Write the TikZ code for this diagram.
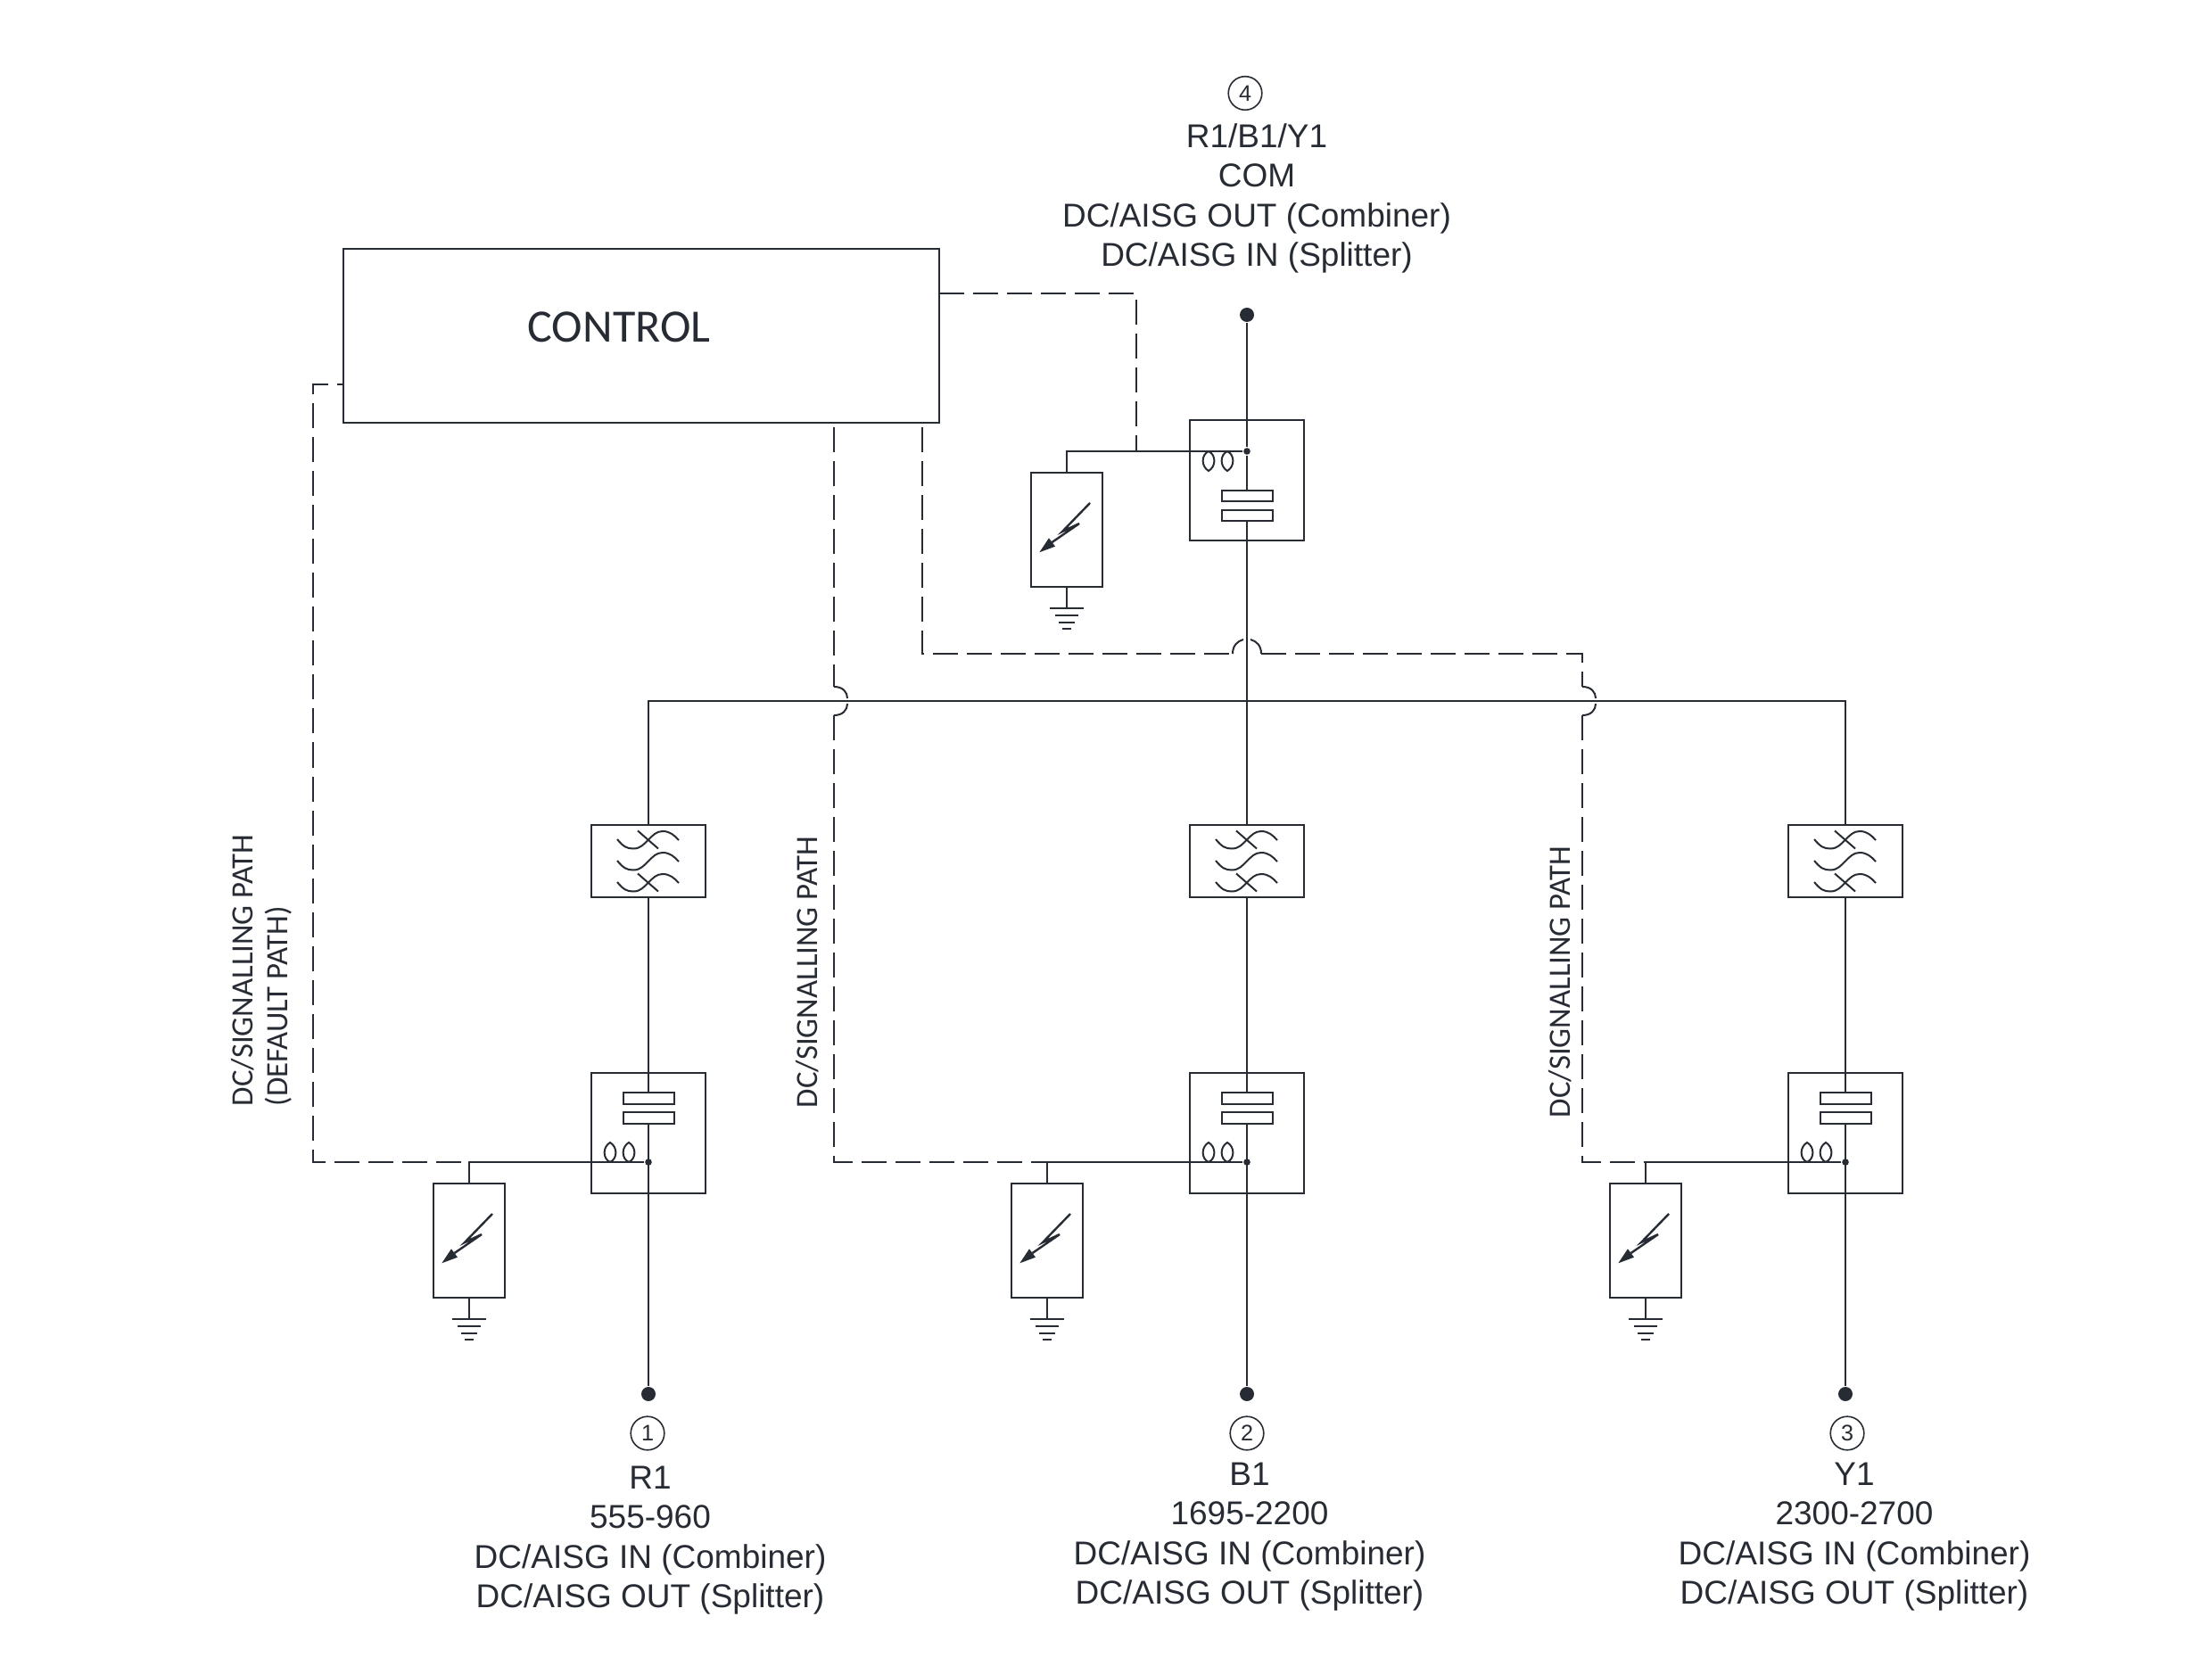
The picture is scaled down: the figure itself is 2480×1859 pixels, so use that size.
\documentclass[tikz,border=0pt]{standalone}
\usepackage{fontspec}
\setmainfont{Liberation Sans}
\newfontfamily\labelfont{Carlito}
\definecolor{ink}{HTML}{272B33}
\tikzset{
  wire/.style={draw=ink,line width=.5pt},
  dashwire/.style={draw=ink,line width=.5pt,dash pattern=on 7pt off 2.5pt},
  box/.style={draw=ink,line width=.5pt,rectangle,inner sep=0pt,minimum width=32pt},
  splitbox/.style={box,minimum height=33.75pt},
  filterbox/.style={box,minimum height=20.25pt},
  surgebox/.style={box,minimum width=20pt,minimum height=32pt},
  capbox/.style={box,minimum width=14.25pt,minimum height=3.1pt,fill=white},
  bigdot/.style={circle,fill=ink,inner sep=0pt,minimum size=4pt},
  smalldot/.style={circle,fill=ink,inner sep=0pt,minimum size=1.9pt},
  portnum/.style={circle,draw=ink,line width=.4pt,inner sep=0pt,minimum size=9.4pt,font=\fontsize{6.3}{7}\selectfont,text=ink},
  caption/.style={align=center,text=ink,inner sep=0pt,font=\fontsize{9.25}{11.1}\selectfont},
  sidelabel/.style={rotate=90,anchor=west,inner sep=0pt,text=ink,font=\labelfont\fontsize{8.7}{10}\selectfont},
}
% surge arrester: name, centre x, top y
\newcommand{\surgeunit}[3]{%
  \node[surgebox] (#1) at (#2,#3+64) {};
  \coordinate (#1gnd) at (#2,#3+152);
  \draw[wire] (#1.south) -- (#1gnd);
  \begin{scope}[shift={(#2,#3)}]
    \draw[wire] (-19,152) -- (19,152);
    \draw[wire] (-13,160) -- (13,160);
    \draw[wire] (-9,168) -- (9,168);
    \draw[wire] (-5,175) -- (5,175);
    \draw[draw=ink,line width=.6pt,line join=miter] (26,34) -- (-5,66) -- (14,57) -- (-16.5,78);
    \fill[ink] (-30.7,89.3) -- (-13,82.7) -- (-20,73.3) -- cycle;
  \end{scope}
}
% filter: name, centre x, centre y
\newcommand{\wavepair}{%
  (-35,-24.5) .. controls (-28,-16) and (-24,-14) .. (-17,-14) .. controls (-9,-14) and (-5,-19) .. (0,-24) .. controls (5,-29) and (9,-33.5) .. (16,-33.5) .. controls (24,-33.5) and (29,-29) .. (34,-23.5)}
\newcommand{\filterunit}[3]{%
  \node[filterbox] (#1) at (#2,#3) {};
  \begin{scope}[shift={(#2,#3)}]
    \draw[wire] \wavepair;
    \draw[wire] (-12,-34) -- (11,-14);
    \begin{scope}[shift={(0,24)}] \draw[wire] \wavepair; \end{scope}
    \begin{scope}[shift={(0,48)}]
      \draw[wire] \wavepair;
      \draw[wire] (-12,-34) -- (11,-14);
    \end{scope}
  \end{scope}
}
% coil loops: centre x, wire y, direction (+1 down, -1 up)
\newcommand{\coilloop}[3]{%
  \begin{scope}[shift={(#1,#2)},yscale=#3]
    \draw[wire] (0,0) .. controls (-8.5,4) and (-8.5,17) .. (0,22) .. controls (8.5,17) and (8.5,4) .. (0,0);
  \end{scope}
}
\begin{document}
\begin{tikzpicture}[x=.25pt,y=-.25pt]
\useasboundingbox (0,0) rectangle (2480,1859);

% control
\node[box,minimum width=166.9pt,minimum height=48.75pt] (control) at (719,376.5) {};
\node[inner sep=0pt,text=ink,font=\labelfont\fontsize{13}{15}\selectfont] (controltext) at (694,367) {CONTROL};

% top port
\node[bigdot] (dotT) at (1398,353) {};
\node[splitbox,minimum height=33.75pt] (splitT) at (1398,538.5) {};
\node[capbox] (capTa) at (1398,556) {};
\node[capbox] (capTb) at (1398,578) {};
\node[smalldot] (jT) at (1398,506) {};
\surgeunit{surgeT}{1196}{530}
\coordinate (wireT) at (1196,506);
\draw[wire] (dotT) -- (jT) -- (capTa.north);
\draw[wire] (jT) -- (wireT) -- (surgeT.north);
\coilloop{1355}{506}{1}
\coilloop{1376}{506}{1}

% bus
\coordinate (busM) at (1398,786);
\coordinate (busR) at (727,786);
\coordinate (busY) at (2069,786);

% branches
\filterunit{filtR}{727}{965.5}
\filterunit{filtB}{1398}{965.5}
\filterunit{filtY}{2069}{965.5}

\node[splitbox] (splitR) at (727,1270) {};
\node[splitbox] (splitB) at (1398,1270) {};
\node[splitbox] (splitY) at (2069,1270) {};
\node[capbox] (capRa) at (727,1231.5) {};
\node[capbox] (capRb) at (727,1253.5) {};
\node[capbox] (capBa) at (1398,1231.5) {};
\node[capbox] (capBb) at (1398,1253.5) {};
\node[capbox] (capYa) at (2069,1231.5) {};
\node[capbox] (capYb) at (2069,1253.5) {};
\node[smalldot] (jR) at (727,1303) {};
\node[smalldot] (jB) at (1398,1303) {};
\node[smalldot] (jY) at (2069,1303) {};
\node[bigdot] (dotR) at (727,1563) {};
\node[bigdot] (dotB) at (1398,1563) {};
\node[bigdot] (dotY) at (2069,1563) {};

\surgeunit{surgeR}{526}{1327}
\surgeunit{surgeB}{1174}{1327}
\surgeunit{surgeY}{1845}{1327}
\coordinate (wireR) at (526,1303);
\coordinate (wireB) at (1174,1303);
\coordinate (wireY) at (1845,1303);

\draw[wire] (capTb.south) -- (filtB.north);
\draw[wire] (filtR.north) -- (busR) -- (busY) -- (filtY.north);
\draw[wire] (filtR.south) -- (capRa.north);
\draw[wire] (filtB.south) -- (capBa.north);
\draw[wire] (filtY.south) -- (capYa.north);
\draw[wire] (capRb.south) -- (dotR);
\draw[wire] (capBb.south) -- (dotB);
\draw[wire] (capYb.south) -- (dotY);
\draw[wire] (jR) -- (wireR) -- (surgeR.north);
\draw[wire] (jB) -- (wireB) -- (surgeB.north);
\draw[wire] (jY) -- (wireY) -- (surgeY.north);
\foreach \cx in {684,705,1355,1376,2026,2047} {\coilloop{\cx}{1303}{-1}}

% dashed signalling paths
\coordinate (a0) at (1053,329);
\coordinate (a1) at (1274,329);
\coordinate (a2) at (1274,506);
\draw[dashwire] (a0) -- (a1) -- (a2);

\coordinate (b0) at (385.5,431);
\coordinate (b1) at (351,431);
\coordinate (b2) at (351,1303);
\draw[dashwire,dash phase=5pt] (b0) -- (b1) -- (b2) -- (wireR);

\coordinate (c0) at (935,479);
\coordinate (c1) at (935,770);
\coordinate (c2) at (935,802);
\coordinate (c3) at (935,1303);
\draw[dashwire] (c0) -- (c1);
\draw[dashwire] (c2) -- (c3) -- (wireB);
\draw[wire] (c1) .. controls (945,770) and (950,776) .. (950,783);
\draw[wire] (c2) .. controls (945,802) and (950,796) .. (950,789);

\coordinate (d0) at (1034,479);
\coordinate (d1) at (1034,733);
\coordinate (d2) at (1382,733);
\coordinate (d3) at (1414,733);
\coordinate (d4) at (1774,733);
\coordinate (d5) at (1774,770);
\coordinate (d6) at (1774,802);
\coordinate (d7) at (1774,1303);
\draw[dashwire] (d0) -- (d1) -- (d2);
\draw[wire] (d2) .. controls (1382,724) and (1387,719) .. (1394,717);
\draw[wire] (d3) .. controls (1414,724) and (1409,719) .. (1402,717);
\draw[dashwire] (d3) -- (d4) -- (d5);
\draw[wire] (d5) .. controls (1784,770) and (1789,776) .. (1789,783);
\draw[wire] (d6) .. controls (1784,802) and (1789,796) .. (1789,789);
\draw[dashwire] (d6) -- (d7) -- (wireY);

% side labels
\node[sidelabel] (labA) at (272,1241) {DC/SIGNALLING PATH};
\node[sidelabel] (labB) at (312,1241) {(DEFAULT PATH)};
\node[sidelabel] (labC) at (905.5,1243) {DC/SIGNALLING PATH};
\node[sidelabel] (labD) at (1749,1254) {DC/SIGNALLING PATH};

% ports
\node[portnum] (p4) at (1396,104.5) {4};
\node[caption] (capt4) at (1409,222.5) {R1/B1/Y1\\COM\\DC/AISG OUT (Combiner)\\DC/AISG IN (Splitter)};
\node[portnum] (p1) at (726,1607) {1};
\node[caption] (capt1) at (729,1727) {R1\\555-960\\DC/AISG IN (Combiner)\\DC/AISG OUT (Splitter)};
\node[portnum] (p2) at (1398,1607) {2};
\node[caption] (capt2) at (1401,1723) {B1\\1695-2200\\DC/AISG IN (Combiner)\\DC/AISG OUT (Splitter)};
\node[portnum] (p3) at (2071,1607) {3};
\node[caption] (capt3) at (2079,1723) {Y1\\2300-2700\\DC/AISG IN (Combiner)\\DC/AISG OUT (Splitter)};
\end{tikzpicture}
\end{document}
